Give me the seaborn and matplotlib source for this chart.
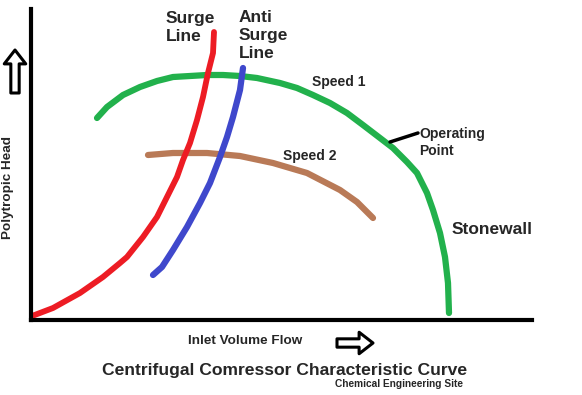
import matplotlib
matplotlib.use("Agg")
import matplotlib.pyplot as plt
import seaborn as sns

# curve points (flow, head) in plot units
surge_flow = [1, 22, 49, 72, 89, 96, 112, 126, 136, 146, 152, 159, 166, 172, 177, 182, 183]
surge_head = [4, 12, 27, 43, 57, 63, 83, 103, 123, 143, 160, 177, 200, 223, 247, 267, 288]

anti_flow = [122, 131, 142, 156, 169, 179, 189, 196, 202, 209, 212]
anti_head = [45, 53, 70, 93, 117, 137, 163, 183, 203, 230, 252]

speed1_flow = [66, 76, 92, 109, 126, 142, 159, 176, 192, 209, 226, 249, 266, 282,
               299, 316, 332, 349, 362, 376, 386, 396, 402, 409, 414, 417, 418]
speed1_head = [202, 213, 225, 233, 239, 243, 244, 245, 245, 244, 242, 237, 232, 225,
               217, 207, 195, 182, 172, 158, 147, 127, 110, 87, 63, 37, 7]

speed2_flow = [117, 142, 176, 209, 242, 276, 309, 326, 342]
speed2_head = [165, 167, 167, 164, 157, 147, 130, 118, 102]

op_flow = [359, 387]
op_head = [178, 187]

W, H = 582, 395

sns.set_style("white")
plt.rcParams["font.family"] = ["Liberation Sans", "DejaVu Sans"]
plt.rcParams["font.weight"] = "bold"

fig = plt.figure(figsize=(W / 100, H / 100), dpi=100)
ax = fig.add_axes([31 / W, (H - 320) / H, 501 / W, 311 / H])
ax.set_xlim(0, 501)
ax.set_ylim(0, 311)
ax.set_xticks([])
ax.set_yticks([])
for side in ["top", "right"]:
    ax.spines[side].set_visible(False)
for side in ["left", "bottom"]:
    ax.spines[side].set_linewidth(3)
    ax.spines[side].set_color("black")

kw = dict(sort=False, estimator=None, solid_capstyle="round", solid_joinstyle="round",
          ax=ax, legend=False)
sns.lineplot(x=speed1_flow, y=speed1_head, color="#22b14c", lw=4.5, **kw)
sns.lineplot(x=speed2_flow, y=speed2_head, color="#b97a57", lw=4.5, **kw)
sns.lineplot(x=surge_flow, y=surge_head, color="#ed1c24", lw=4.2, **kw)
sns.lineplot(x=anti_flow, y=anti_head, color="#3f48cc", lw=4.5, **kw)
sns.lineplot(x=op_flow, y=op_head, color="black", lw=2.5, **kw)

def ftext(px, py, s, **k):
    fig.text(px / W, 1 - py / H, s, fontweight="bold", **k)

ftext(166, 11, "Surge\nLine", fontsize=12.5, va="top", ha="left", linespacing=1.25)
ftext(239, 10, "Anti\nSurge\nLine", fontsize=12.5, va="top", ha="left", linespacing=1.25)
ftext(312, 82, "Speed 1", fontsize=10, va="center", ha="left")
ftext(419, 127, "Operating\nPoint", fontsize=10, va="top", ha="left", linespacing=1.25)
ftext(283, 156, "Speed 2", fontsize=10, va="center", ha="left")
ftext(452, 229, "Stonewall", fontsize=12.5, va="center", ha="left")
ftext(245, 341, "Inlet Volume Flow", fontsize=9.7, va="center", ha="center")
ftext(8, 187, "Polytropic Head", fontsize=9.7, va="center", ha="center", rotation=90)
ftext(285, 370, "Centrifugal Comressor Characteristic Curve", fontsize=12.6, va="center", ha="center")
ftext(463, 384, "Chemical Engineering Site", fontsize=7.3, va="center", ha="right")

# hollow arrows
arrow = dict(arrowstyle="simple,head_length=1.0,head_width=1.55,tail_width=0.6",
             fc="white", ec="black", lw=2.2, shrinkA=0, shrinkB=0, mutation_scale=10)
ax.annotate("", xy=(373, H - 343), xytext=(337, H - 343), xycoords="figure pixels",
            textcoords="figure pixels", arrowprops=arrow, annotation_clip=False)
ax.annotate("", xy=(15, H - 50), xytext=(15, H - 93), xycoords="figure pixels",
            textcoords="figure pixels", arrowprops=arrow, annotation_clip=False)

fig.savefig("out.png", dpi=100)
